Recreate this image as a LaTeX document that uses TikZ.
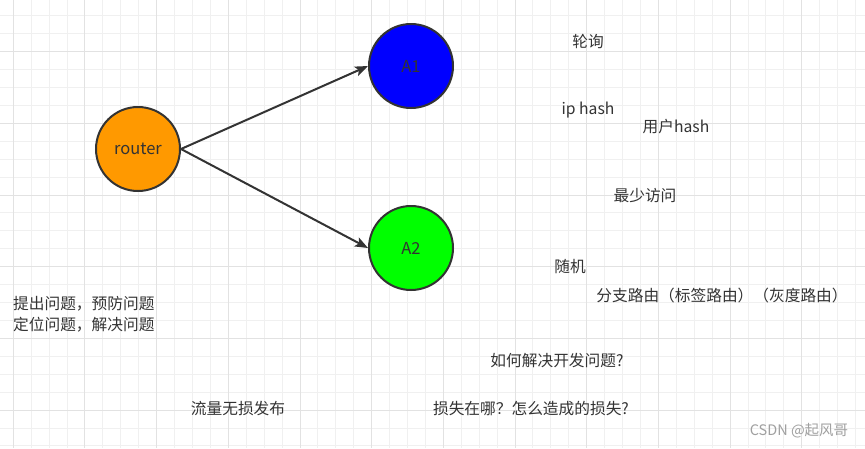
\documentclass[tikz,border=0pt]{standalone}
\usepackage{fontspec}
\setmainfont{Noto Sans CJK SC}
\usetikzlibrary{arrows.meta}
\definecolor{txt}{HTML}{333333}
\definecolor{edge}{HTML}{333333}
\definecolor{gminor}{HTML}{F0F0F0}
\definecolor{gmajor}{HTML}{E2E2E2}
\definecolor{orangef}{HTML}{FF9900}
\definecolor{bluef}{HTML}{0000FF}
\definecolor{greenf}{HTML}{00FF00}
\definecolor{wm}{HTML}{A0A0A0}
\tikzset{
  circ/.style={circle,draw=edge,line width=2pt,minimum size=84pt,inner sep=0pt,text=txt,font=\fontsize{16.5}{19}\selectfont},
  lbl/.style={text=txt,inner sep=0pt,font=\fontsize{15.7}{21}\selectfont},
  conn/.style={draw=edge,line width=2pt,-{Stealth[length=13pt,width=10pt,inset=3pt]}}
}
\begin{document}
\begin{tikzpicture}[x=1pt,y=-1pt]
\useasboundingbox (0,0) rectangle (865,448);
\fill[white] (0,0) rectangle (865,448);
% grid
\foreach \i in {-1,...,48} {
  \pgfmathsetmacro\xx{13.3+17.92*\i}
  \draw[gminor,line width=1pt] (\xx,0) -- (\xx,448);
}
\foreach \i in {-3,...,25} {
  \pgfmathsetmacro\yy{51.7+17.92*\i}
  \draw[gminor,line width=1pt] (0,\yy) -- (865,\yy);
}
\foreach \i in {0,...,12} {
  \pgfmathsetmacro\xx{13.3+71.68*\i}
  \draw[gmajor,line width=1pt] (\xx,0) -- (\xx,448);
}
\foreach \i in {-1,...,6} {
  \pgfmathsetmacro\yy{51.7+71.68*\i}
  \draw[gmajor,line width=1pt] (0,\yy) -- (865,\yy);
}
% nodes
\node[circ,fill=orangef] (router) at (138,149) {router};
\node[circ,fill=bluef] (A1) at (411,66) {A1};
\node[circ,fill=greenf] (A2) at (411,248) {A2};
\draw[conn] (router.east) -- (A1.west);
\draw[conn] (router.east) -- (A2.west);
% labels
\node[lbl] (t1) at (588,41) {轮询};
\node[lbl] (t2) at (588,110) {ip hash};
\node[lbl] (t3) at (676,127) {用户hash};
\node[lbl] (t4) at (645,196) {最少访问};
\node[lbl] (t5) at (570,267) {随机};
\node[lbl] (t6) at (722,296) {分支路由（标签路由）（灰度路由）};
\node[lbl,anchor=west,align=left] (t7) at (13,314) {提出问题，预防问题\\定位问题，解决问题};
\node[lbl] (t8) at (557,361) {如何解决开发问题?};
\node[lbl] (t9) at (238,409) {流量无损发布};
\node[lbl] (t10) at (531,409) {损失在哪？怎么造成的损失?};
\node[text=wm,inner sep=0pt,font=\fontsize{14.5}{17}\selectfont] (wm) at (799,431) {CSDN @起风哥};
\end{tikzpicture}
\end{document}
